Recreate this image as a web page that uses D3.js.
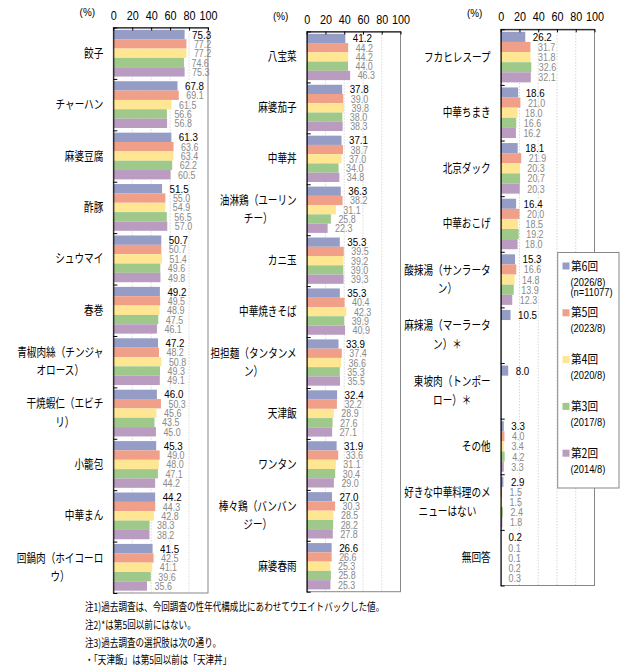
<!DOCTYPE html>
<html>
<head>
<meta charset="utf-8">
<script src="https://cdn.jsdelivr.net/npm/d3@7"></script>
<style>
  body { margin: 0; background: #fff; }
  svg { display: block; }
  text { font-family: "Noto Sans CJK JP", "Noto Sans", sans-serif; fill: #000; }
  .num { font-family: "Liberation Sans", Arial, sans-serif; }
</style>
</head>
<body>
<svg id="chart" width="634" height="671"></svg>
<script>
// survey rounds (legend)
const ROUNDS = ['第6回', '第5回', '第4回', '第3回', '第2回'];
const ROUND_NOTES = [['(2026/8)', '(n=11077)'], ['(2023/8)'], ['(2020/8)'], ['(2017/8)'], ['(2014/8)']];
const ROUND_COLORS = ['#959cc6', '#f09f89', '#ffe692', '#9ec98a', '#b99cc0'];
const X_TICKS = [0, 20, 40, 60, 80, 100];

// left column
const LEFT_LABELS = [
  ['餃子'], ['チャーハン'], ['麻婆豆腐'], ['酢豚'], ['シュウマイ'], ['春巻'],
  ['青椒肉絲（チンジャ', 'オロース）'], ['干焼蝦仁（エビチ', 'リ）'], ['小籠包'], ['中華まん'],
  ['回鍋肉（ホイコーロ', 'ウ）']
];
const LEFT_VALUES = [
  [75.3, 77.2, 77.2, 74.6, 75.3],
  [67.8, 69.1, 61.5, 56.6, 56.8],
  [61.3, 63.6, 63.4, 62.2, 60.5],
  [51.5, 55.0, 54.9, 56.5, 57.0],
  [50.7, 50.7, 51.4, 49.6, 49.8],
  [49.2, 49.5, 48.9, 47.5, 46.1],
  [47.2, 48.2, 50.8, 49.3, 49.1],
  [46.0, 50.3, 45.6, 43.5, 45.0],
  [45.3, 49.0, 48.0, 47.1, 44.2],
  [44.2, 44.3, 42.8, 38.3, 38.2],
  [41.5, 42.5, 41.1, 39.6, 35.6]
];

// middle column
const MID_LABELS = [
  ['八宝菜'], ['麻婆茄子'], ['中華丼'], ['油淋鶏（ユーリン', 'チー）'], ['カニ玉'], ['中華焼きそば'],
  ['担担麺（タンタンメ', 'ン）'], ['天津飯'], ['ワンタン'], ['棒々鶏（バンバン', 'ジー）'], ['麻婆春雨']
];
const MID_VALUES = [
  [41.2, 44.2, 44.2, 44.0, 46.3],
  [37.8, 39.0, 39.8, 38.0, 38.3],
  [37.1, 38.7, 37.0, 34.0, 34.8],
  [36.3, 38.2, 31.1, 25.8, 22.3],
  [35.3, 39.5, 39.2, 39.0, 39.3],
  [35.3, 40.4, 42.3, 39.9, 40.9],
  [33.9, 37.4, 36.6, 35.3, 35.5],
  [32.4, 32.2, 28.9, 27.6, 27.1],
  [31.9, 33.6, 31.1, 30.4, 29.0],
  [27.0, 30.3, 28.5, 28.2, 27.8],
  [26.6, 26.6, 25.3, 25.8, 25.3]
];

// right column
const RIGHT_LABELS = [
  ['フカヒレスープ'], ['中華ちまき'], ['北京ダック'], ['中華おこげ'], ['酸辣湯（サンラータ', 'ン）'],
  ['麻辣湯（マーラータ', 'ン）＊'], ['東坡肉（トンポー', 'ロー）＊'], ['その他'],
  ['好きな中華料理のメ', 'ニューはない'], ['無回答']
];
const RIGHT_VALUES = [
  [26.2, 31.7, 31.8, 32.6, 32.1],
  [18.6, 21.0, 18.0, 16.6, 16.2],
  [18.1, 21.9, 20.3, 20.7, 20.3],
  [16.4, 20.0, 18.5, 19.2, 18.0],
  [15.3, 16.6, 14.8, 13.9, 12.3],
  [10.5, null, null, null, null],
  [8.0, null, null, null, null],
  [3.3, 4.0, 3.4, 4.2, 3.3],
  [2.9, 1.5, 1.5, 2.4, 1.8],
  [0.2, 0.1, 0.1, 0.2, 0.3]
];

const NOTES = [
  '注1)過去調査は、今回調査の性年代構成比にあわせてウエイトバックした値。',
  '注2)*は第5回以前にはない。',
  '注3)過去調査の選択肢は次の通り。',
  '・「天津飯」は第5回以前は「天津丼」'
];

const svg = d3.select('#chart');
const SQ = 0.77;   // horizontal squeeze for the narrow Japanese UI font

const squeezed = (parent, x, y, str, sx = SQ) =>
  parent.append('text')
    .attr('transform', `translate(${x},${y}) scale(${sx},1)`)
    .text(str);

const drawPanel = (cfg, labels, values) => {
  const x = d3.scaleLinear().domain([0, 100]).range([cfg.x0, cfg.x1]);
  const y = d3.scaleBand().domain(d3.range(labels.length)).range([cfg.top, cfg.bottom]);
  const yInner = d3.scaleBand().domain(d3.range(ROUNDS.length))
    .range([0, y.bandwidth()]).paddingOuter(0.25);
  const g = svg.append('g');

  // dotted gridlines + gray frame
  g.selectAll('line.grid')
    .data(X_TICKS.slice(1, -1))
    .join('line')
    .attr('class', 'grid')
    .attr('x1', d => x(d)).attr('x2', d => x(d))
    .attr('y1', cfg.top).attr('y2', cfg.bottom)
    .attr('stroke', '#c4c4c4')
    .attr('stroke-dasharray', '1,2');

  g.append('rect')
    .attr('x', cfg.x0).attr('y', cfg.top)
    .attr('width', cfg.x1 - cfg.x0).attr('height', cfg.bottom - cfg.top)
    .attr('fill', 'none')
    .attr('stroke', '#878787');

  // bars
  const rows = g.selectAll('g.row')
    .data(values)
    .join('g')
    .attr('class', 'row')
    .attr('transform', (d, i) => `translate(0,${y(i)})`);

  rows.selectAll('rect')
    .data(d => d.map((v, j) => ({ v, j })).filter(e => e.v != null))
    .join('rect')
    .attr('x', x(0))
    .attr('y', e => yInner(e.j))
    .attr('width', e => x(e.v) - x(0))
    .attr('height', yInner.bandwidth())
    .attr('fill', e => ROUND_COLORS[e.j]);

  rows.each(function (d) {
    const row = d3.select(this);
    d.forEach((v, j) => {
      if (v == null) return;
      squeezed(row, x(v) + 7.5, yInner(j) + yInner.bandwidth() / 2 + 4, v.toFixed(1), 0.85)
        .attr('class', 'num')
        .style('font-size', j === 0 ? '11.5px' : '10.5px')
        .style('fill', j === 0 ? '#000' : '#8a8a8a');
    });
  });

  // top axis: black line with inward ticks
  const topAxis = g.append('g')
    .attr('transform', `translate(0,${cfg.top})`)
    .call(d3.axisTop(x).tickValues(X_TICKS).tickSizeInner(-3).tickSizeOuter(0).tickPadding(8));
  topAxis.select('.domain').attr('stroke', '#000');
  topAxis.selectAll('.tick line').attr('stroke', '#000');
  topAxis.selectAll('.tick text')
    .attr('class', 'num')
    .attr('transform', 'scale(0.9,1)')
    .style('font-size', '12px')
    .style('fill', '#000')
    .style('font-family', '"Liberation Sans", Arial, sans-serif');

  // left axis: category boundary ticks
  const yEdge = d3.scaleLinear().domain([0, labels.length]).range([cfg.top, cfg.bottom]);
  const leftAxis = g.append('g')
    .attr('transform', `translate(${cfg.x0},0)`)
    .call(d3.axisLeft(yEdge).tickValues(d3.range(labels.length + 1)).tickSizeInner(-4).tickSizeOuter(0).tickFormat(''));
  leftAxis.select('.domain').attr('stroke', '#000');
  leftAxis.selectAll('.tick line').attr('stroke', '#000');

  squeezed(g, cfg.x0 - 26, cfg.top - 12, '(%)', 0.9)
    .attr('text-anchor', 'middle')
    .attr('class', 'num')
    .style('font-size', '11px');

  // category labels: single line right aligned, wrapped lines centred
  labels.forEach((lines, i) => {
    const lg = g.append('g');
    const lineH = 18.5;
    const cy = y(i) + y.bandwidth() / 2;
    const lineY = k => cy + (k - (lines.length - 1) / 2) * lineH + 4.5;
    const texts = lines.map((s, k) =>
      squeezed(lg, 0, lineY(k), s)
        .style('font-size', '12.5px')
        .attr('text-anchor', 'middle'));
    const maxW = d3.max(texts, t => t.node().getComputedTextLength()) * SQ;
    const cx = cfg.x0 - 10 - maxW / 2;
    texts.forEach((t, k) => {
      t.attr('transform', `translate(${cx},${lineY(k)}) scale(${SQ},1)`);
    });
  });
};

drawPanel({ x0: 113.3, x1: 208, top: 27.5, bottom: 593 }, LEFT_LABELS, LEFT_VALUES);
drawPanel({ x0: 306.7, x1: 400.5, top: 31.5, bottom: 591.7 }, MID_LABELS, MID_VALUES);
drawPanel({ x0: 500.7, x1: 594.5, top: 29.3, bottom: 585.5 }, RIGHT_LABELS, RIGHT_VALUES);

// legend
const legend = svg.append('g');
legend.append('rect')
  .attr('x', 557.7).attr('y', 252.5)
  .attr('width', 61.3).attr('height', 235.5)
  .attr('fill', '#fff')
  .attr('stroke', '#878787');

ROUNDS.forEach((name, i) => {
  const ly = 266 + i * 46.8;
  legend.append('rect')
    .attr('x', 562.5).attr('y', ly - 3.5)
    .attr('width', 7).attr('height', 7)
    .attr('fill', ROUND_COLORS[i]);
  squeezed(legend, 571, ly + 4.5, name, 0.85).style('font-size', '12.5px');
  ROUND_NOTES[i].forEach((s, k) => {
    squeezed(legend, 570.5, ly + 19.5 + k * 10.5, s, 0.85)
      .attr('class', 'num')
      .style('font-size', '11px');
  });
});

// footnotes
NOTES.forEach((s, i) => {
  squeezed(svg, 85, 611 + i * 17.8, s, 0.78).style('font-size', '11px');
});
</script>
</body>
</html>
